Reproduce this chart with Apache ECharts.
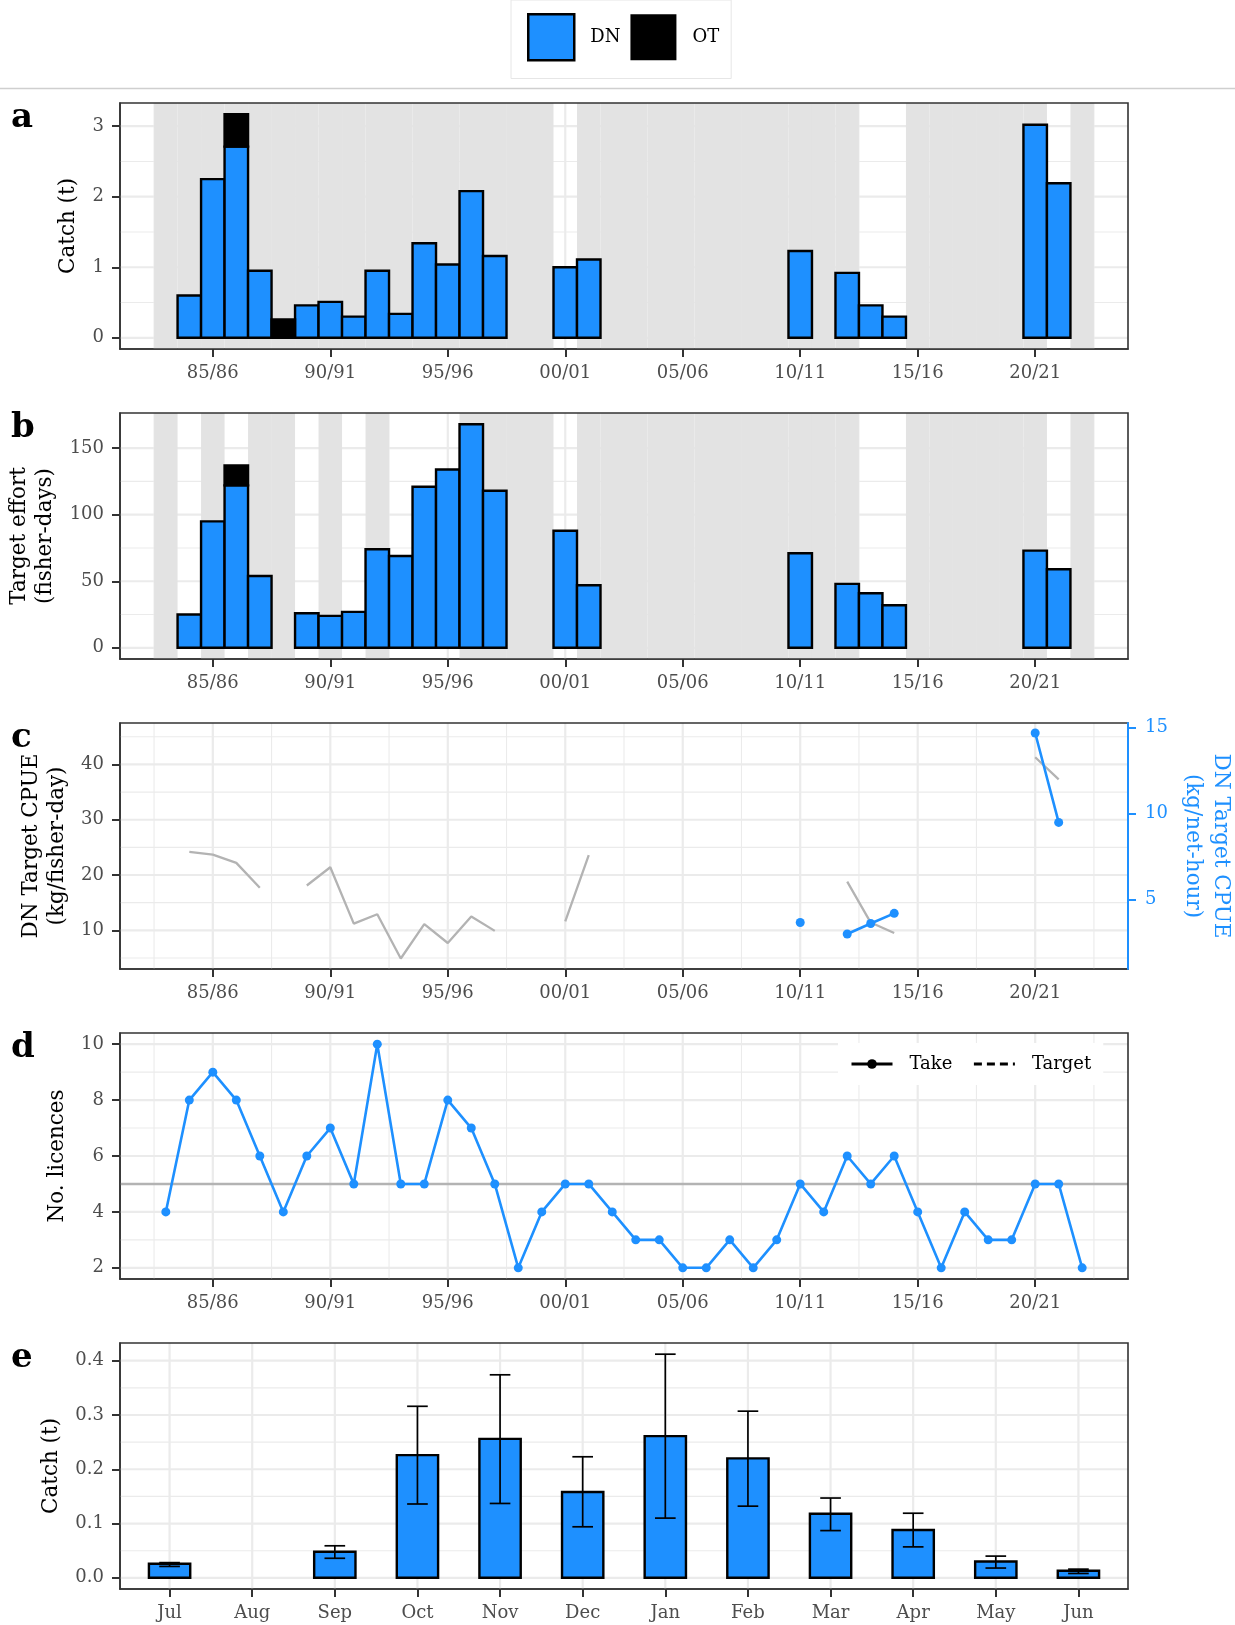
<!DOCTYPE html>
<html>
<head>
<meta charset="utf-8">
<script src="https://cdn.jsdelivr.net/npm/echarts@6/dist/echarts.min.js"></script>
<style>
html,body{margin:0;padding:0;background:#ffffff;}
#chart{width:1235px;height:1625px;}
</style>
</head>
<body>
<div id="chart"></div>
<script>
// ---------------- DATA ----------------
const years = [1983,1984,1985,1986,1987,1988,1989,1990,1991,1992,
               1993,1994,1995,1996,1997,1998,1999,2000,2001,2002,
               2003,2004,2005,2006,2007,2008,2009,2010,2011,2012,
               2013,2014,2015,2016,2017,2018,2019,2020,2021,2022];
// panel a: catch (t)
const catchDN = [null,0.60,2.25,2.71,0.95,null,0.46,0.51,0.30,0.95,
                 0.34,1.34,1.04,2.08,1.16,null,null,1.00,1.11,null,
                 null,null,null,null,null,null,null,1.23,null,0.92,
                 0.46,0.30,null,null,null,null,null,3.02,2.19,null];
const catchOT = [null,null,null,0.46,null,0.26,null,null,null,null,
                 null,null,null,null,null,null,null,null,null,null,
                 null,null,null,null,null,null,null,null,null,null,
                 null,null,null,null,null,null,null,null,null,null];
// panel b: target effort (fisher-days)
const effortDN = [null,25,95,122,54,null,26,24,27,74,
                  69,121,134,168,118,null,null,88,47,null,
                  null,null,null,null,null,null,null,71,null,48,
                  41,32,null,null,null,null,null,73,59,null];
const effortOT = [null,null,null,15,null,null,null,null,null,null,
                  null,null,null,null,null,null,null,null,null,null,
                  null,null,null,null,null,null,null,null,null,null,
                  null,null,null,null,null,null,null,null,null,null];
// panel c: CPUE
const cpueFisherDay = [null,24.2,23.7,22.2,17.7,null,18.1,21.4,11.2,12.9,
                       4.9,11.1,7.7,12.5,9.9,null,null,11.6,23.6,null,
                       null,null,null,null,null,null,null,null,null,18.8,
                       11.4,9.5,null,null,null,null,null,41.3,37.3,null];
const cpueNetHour = [null,null,null,null,null,null,null,null,null,null,
                     null,null,null,null,null,null,null,null,null,null,
                     null,null,null,null,null,null,null,3.67,null,3.00,
                     3.61,4.20,null,null,null,null,null,14.69,9.49,null];
// panel d: licences
const licences = [4,8,9,8,6,4,6,7,5,10,
                  5,5,8,7,5,2,4,5,5,4,
                  3,3,2,2,3,2,3,5,4,6,
                  5,6,4,2,4,3,3,5,5,2];
const licenceTarget = 5;
// shaded seasons
const shadeYearsA = [1983,1984,1985,1986,1987,1988,1989,1990,1991,1992,1993,1994,1995,1996,1997,1998,1999,
                     2001,2002,2003,2004,2005,2006,2007,2008,2009,2010,2011,2012,
                     2015,2016,2017,2018,2019,2020,2022];
const shadeYearsB = [1983,1985,1987,1988,1990,1992,1996,1997,1998,1999,
                     2001,2002,2003,2004,2005,2006,2007,2008,2009,2010,2011,2012,
                     2015,2016,2017,2018,2019,2020,2022];
// panel e: monthly catch
const months = ['Jul','Aug','Sep','Oct','Nov','Dec','Jan','Feb','Mar','Apr','May','Jun'];
const monthCatch = [0.026,null,0.048,0.226,0.256,0.158,0.261,0.220,0.118,0.088,0.030,0.013];
const monthLow   = [0.021,null,0.036,0.136,0.137,0.094,0.110,0.132,0.087,0.057,0.018,0.008];
const monthHigh  = [0.028,null,0.059,0.316,0.374,0.223,0.412,0.307,0.147,0.119,0.040,0.016];

// ticks
const xTickYears  = [1985,1990,1995,2000,2005,2010,2015,2020];
const xTickLabels = ['85/86','90/91','95/96','00/01','05/06','10/11','15/16','20/21'];
const xMinorYears = [1982.5,1987.5,1992.5,1997.5,2002.5,2007.5,2012.5,2017.5,2022.5];
const aTicks = [0,1,2,3], aTickLabels = ['0','1','2','3'], aMinor = [0.5,1.5,2.5];
const bTicks = [0,50,100,150], bTickLabels = ['0','50','100','150'], bMinor = [25,75,125];
const cTicks = [10,20,30,40], cTickLabels = ['10','20','30','40'], cMinor = [5,15,25,35,45];
const cRightTicks = [5,10,15], cRightLabels = ['5','10','15'];
const dTicks = [2,4,6,8,10], dTickLabels = ['2','4','6','8','10'], dMinor = [3,5,7,9];
const eTicks = [0,0.1,0.2,0.3,0.4], eTickLabels = ['0.0','0.1','0.2','0.3','0.4'], eMinor = [0.05,0.15,0.25,0.35];

// axis ranges
const xRange = [1981.05, 2023.95];
const aRange = [-0.1585, 3.3285];
const bRange = [-8.4, 176.4];
const cRange = [3.0, 47.5];
const cSecScale = 0.3215;
const dRange = [1.6, 10.4];
const eRange = [-0.0206, 0.4326];
const eXRange = [0.4, 12.6];

// ---------------- STYLE / LAYOUT ----------------
const BLUE = '#1E90FF';
const FONT = 'DejaVu Serif';
const GL = 120, GW = 1008, GH = 246;
const TOPS = [103, 413, 723, 1033, 1343];
const TICK_C = '#4D4D4D';
const GRID_C = '#EBEBEB';
const SHADE_C = '#E3E3E3';
const TITLE_SIZE = 21.5;

function lab(ticks, labels) {
  return function (v) {
    const i = ticks.findIndex(t => Math.abs(t - v) < 1e-6);
    return i < 0 ? '' : labels[i];
  };
}

function xAxisCfg(gi, range, ticks, labels) {
  return {
    type: 'value', gridIndex: gi, min: range[0], max: range[1],
    splitLine: {show: false}, minorSplitLine: {show: false},
    axisLine: {show: true, onZero: false, lineStyle: {color: '#333333', width: 1.6}},
    axisTick: {show: true, customValues: ticks, length: 8, lineStyle: {color: '#333333', width: 2}},
    axisLabel: {customValues: ticks, formatter: lab(ticks, labels), color: TICK_C, fontSize: 18, fontFamily: FONT, margin: 15}
  };
}
function yAxisCfg(gi, range, ticks, labels, name, gap) {
  return {
    type: 'value', gridIndex: gi, min: range[0], max: range[1], position: 'left',
    splitLine: {show: false},
    axisLine: {show: true, onZero: false, lineStyle: {color: '#333333', width: 1.6}},
    axisTick: {show: true, customValues: ticks, length: 8, lineStyle: {color: '#333333', width: 2}},
    axisLabel: {customValues: ticks, formatter: lab(ticks, labels), color: TICK_C, fontSize: 18, fontFamily: FONT, margin: 16},
    name: name, nameLocation: 'middle', nameRotate: 90, nameGap: gap,
    nameTextStyle: {color: '#000', fontSize: TITLE_SIZE, fontFamily: FONT, lineHeight: 26}
  };
}

const series = [];

function gridLines(xi, yi, vals, dir, width) {
  series.push({
    type: 'custom', xAxisIndex: xi, yAxisIndex: yi, z: 1, silent: true,
    data: vals.map(v => [v, v]),
    renderItem: function (params, api) {
      const cs = params.coordSys;
      if (dir === 'v') {
        const x = api.coord([api.value(0), api.value(1)])[0];
        return {type: 'line', shape: {x1: x, y1: cs.y, x2: x, y2: cs.y + cs.height},
                style: {stroke: GRID_C, lineWidth: width}};
      }
      const y = api.coord([api.value(0), api.value(1)])[1];
      return {type: 'line', shape: {x1: cs.x, y1: y, x2: cs.x + cs.width, y2: y},
              style: {stroke: GRID_C, lineWidth: width}};
    }
  });
}

function shading(xi, yi, shadeYears) {
  series.push({
    type: 'custom', xAxisIndex: xi, yAxisIndex: yi, z: 2, silent: true,
    data: shadeYears.map(y => [y, 0]),
    renderItem: function (params, api) {
      const cs = params.coordSys;
      const xa = api.coord([api.value(0) - 0.5, 0])[0];
      const xb = api.coord([api.value(0) + 0.5, 0])[0];
      return {type: 'rect', shape: {x: xa, y: cs.y, width: xb - xa, height: cs.height},
              style: {fill: SHADE_C}};
    }
  });
}

function barRender(halfWidth, fill) {
  return function (params, api) {
    const x = api.value(0);
    const p0 = api.coord([x - halfWidth, api.value(1)]);
    const p1 = api.coord([x + halfWidth, api.value(2)]);
    return {type: 'rect',
            shape: {x: p0[0], y: p1[1], width: p1[0] - p0[0], height: p0[1] - p1[1]},
            style: {fill: fill, stroke: '#000', lineWidth: 2.4}};
  };
}

function stackedBars(xi, yi, dn, ot) {
  const dnData = [], otData = [];
  years.forEach((y, i) => {
    if (dn[i] != null) dnData.push([y, 0, dn[i]]);
    if (ot[i] != null) {
      const base = dn[i] != null ? dn[i] : 0;
      otData.push([y, base, base + ot[i]]);
    }
  });
  series.push({type: 'custom', name: 'DN', xAxisIndex: xi, yAxisIndex: yi, z: 3,
               itemStyle: {color: BLUE, borderColor: '#000', borderWidth: 2.4},
               data: dnData, renderItem: barRender(0.5, BLUE)});
  series.push({type: 'custom', name: 'OT', xAxisIndex: xi, yAxisIndex: yi, z: 3,
               itemStyle: {color: '#000'},
               data: otData, renderItem: barRender(0.5, '#000')});
}

// ---- axes ----
const xAxes = [
  xAxisCfg(0, xRange, xTickYears, xTickLabels),
  xAxisCfg(1, xRange, xTickYears, xTickLabels),
  xAxisCfg(2, xRange, xTickYears, xTickLabels),
  xAxisCfg(3, xRange, xTickYears, xTickLabels),
  xAxisCfg(4, eXRange, months.map((m, i) => i + 1), months)
];
const cRightAxis = {
  type: 'value', gridIndex: 2, position: 'right', z: 120,
  min: cRange[0] * cSecScale, max: cRange[1] * cSecScale,
  splitLine: {show: false},
  axisLine: {show: true, onZero: false, lineStyle: {color: BLUE, width: 2}},
  axisTick: {show: true, customValues: cRightTicks, length: 8, lineStyle: {color: BLUE, width: 2}},
  axisLabel: {customValues: cRightTicks, formatter: lab(cRightTicks, cRightLabels), color: BLUE, fontSize: 18, fontFamily: FONT, margin: 17},
  name: 'DN Target CPUE\n(kg/net-hour)', nameLocation: 'middle', nameRotate: -90, nameGap: 38,
  nameTextStyle: {color: BLUE, fontSize: TITLE_SIZE, fontFamily: FONT, lineHeight: 28}
};
const yAxes = [
  yAxisCfg(0, aRange, aTicks, aTickLabels, 'Catch (t)', 32),
  yAxisCfg(1, bRange, bTicks, bTickLabels, 'Target effort\n(fisher-days)', 47),
  yAxisCfg(2, cRange, cTicks, cTickLabels, 'DN Target CPUE\n(kg/fisher-day)', 41),
  cRightAxis,
  yAxisCfg(3, dRange, dTicks, dTickLabels, 'No. licences', 42),
  yAxisCfg(4, eRange, eTicks, eTickLabels, 'Catch (t)', 53)
];

// ---- gridlines & shading ----
const yIdx = [0, 1, 2, 4, 5];
const yMaj = [aTicks, bTicks, cTicks, dTicks, eTicks];
const yMin = [aMinor, bMinor, cMinor, dMinor, eMinor];
for (let p = 0; p < 5; p++) {
  if (p < 4) {
    gridLines(p, yIdx[p], xMinorYears, 'v', 1.1);
    gridLines(p, yIdx[p], xTickYears, 'v', 2.2);
  } else {
    gridLines(p, yIdx[p], months.map((m, i) => i + 1), 'v', 2.2);
  }
  gridLines(p, yIdx[p], yMin[p], 'h', 1.1);
  gridLines(p, yIdx[p], yMaj[p], 'h', 2.2);
}
shading(0, 0, shadeYearsA);
shading(1, 1, shadeYearsB);

// ---- panel a, b bars ----
stackedBars(0, 0, catchDN, catchOT);
stackedBars(1, 1, effortDN, effortOT);

// ---- panel c ----
series.push({
  type: 'line', name: 'cpueDay', xAxisIndex: 2, yAxisIndex: 2, z: 4, silent: true,
  data: years.map((y, i) => [y, cpueFisherDay[i]]),
  showSymbol: false, connectNulls: false,
  lineStyle: {color: '#B3B3B3', width: 2.3}, itemStyle: {color: '#B3B3B3'}
});
series.push({
  type: 'line', name: 'cpueNet', xAxisIndex: 2, yAxisIndex: 3, z: 5, silent: true,
  data: years.map((y, i) => [y, cpueNetHour[i]]),
  showSymbol: true, showAllSymbol: true, symbol: 'circle', symbolSize: 9, connectNulls: false,
  lineStyle: {color: BLUE, width: 2.6}, itemStyle: {color: BLUE}
});

// ---- panel d ----
series.push({
  type: 'custom', name: 'targetLine', xAxisIndex: 3, yAxisIndex: 4, z: 3, silent: true,
  data: [[xRange[0], licenceTarget]],
  renderItem: function (params, api) {
    const cs = params.coordSys;
    const y = api.coord([api.value(0), api.value(1)])[1];
    return {type: 'line', shape: {x1: cs.x, y1: y, x2: cs.x + cs.width, y2: y},
            style: {stroke: '#B3B3B3', lineWidth: 2.4}};
  }
});
series.push({
  type: 'line', name: 'Target', xAxisIndex: 3, yAxisIndex: 4, data: [], symbol: 'none',
  lineStyle: {color: '#000', type: [8, 5], width: 3}, itemStyle: {color: '#000'}
});
series.push({
  type: 'line', name: 'Take', xAxisIndex: 3, yAxisIndex: 4, z: 5, silent: true,
  data: years.map((y, i) => [y, licences[i]]),
  showSymbol: true, showAllSymbol: true, symbol: 'circle', symbolSize: 9,
  lineStyle: {color: BLUE, width: 2.6}, itemStyle: {color: BLUE}
});

// ---- panel e ----
const eBars = [], eErr = [];
months.forEach((m, i) => {
  if (monthCatch[i] != null) eBars.push([i + 1, 0, monthCatch[i]]);
  if (monthLow[i] != null) eErr.push([i + 1, monthLow[i], monthHigh[i]]);
});
series.push({type: 'custom', name: 'monthBars', xAxisIndex: 4, yAxisIndex: 5, z: 3, silent: true,
             data: eBars, renderItem: barRender(0.25, BLUE)});
series.push({
  type: 'custom', name: 'monthErr', xAxisIndex: 4, yAxisIndex: 5, z: 4, silent: true,
  data: eErr,
  renderItem: function (params, api) {
    const x = api.value(0);
    const lo = api.coord([x, api.value(1)]);
    const hi = api.coord([x, api.value(2)]);
    const wl = api.coord([x - 0.125, api.value(1)])[0];
    const wr = api.coord([x + 0.125, api.value(1)])[0];
    const st = {stroke: '#000', lineWidth: 1.7};
    return {type: 'group', children: [
      {type: 'line', shape: {x1: lo[0], y1: lo[1], x2: hi[0], y2: hi[1]}, style: st},
      {type: 'line', shape: {x1: wl, y1: lo[1], x2: wr, y2: lo[1]}, style: st},
      {type: 'line', shape: {x1: wl, y1: hi[1], x2: wr, y2: hi[1]}, style: st}
    ]};
  }
});

// ---- graphics: frames, panel letters, separator ----
const graphics = [];
graphics.push({type: 'line', z: 100, silent: true,
  shape: {x1: 0, y1: 88.5, x2: 1235, y2: 88.5}, style: {stroke: '#CFCFCF', lineWidth: 1.5}});
const letters = ['a', 'b', 'c', 'd', 'e'];
TOPS.forEach((t, i) => {
  graphics.push({type: 'rect', z: 100, silent: true,
    shape: {x: GL, y: t, width: GW, height: GH},
    style: {fill: 'none', stroke: '#333333', lineWidth: 1.6}});
  graphics.push({type: 'text', z: 100, silent: true, left: 11, top: t - 2,
    style: {text: letters[i], font: 'bold 34px "DejaVu Serif"', fill: '#000'}});
});

const option = {
  animation: false,
  backgroundColor: '#ffffff',
  textStyle: {fontFamily: FONT},
  grid: TOPS.map(t => ({left: GL, top: t, width: GW, height: GH, containLabel: false, outerBoundsMode: 'none'})),
  xAxis: xAxes,
  yAxis: yAxes,
  legend: [
    {
      left: 511, top: 0, orient: 'horizontal', selectedMode: false,
      padding: [13, 12, 17, 16], itemWidth: 46, itemHeight: 46, itemGap: 10,
      backgroundColor: '#ffffff', borderColor: '#E6E6E6', borderWidth: 1,
      textStyle: {fontFamily: FONT, fontSize: 18, color: '#000', padding: [0, 0, 0, 11]},
      data: [
        {name: 'DN', icon: 'rect', itemStyle: {color: BLUE, borderColor: '#000', borderWidth: 2.5}},
        {name: 'OT', icon: 'rect', itemStyle: {color: '#000', borderColor: '#000', borderWidth: 0}}
      ]
    },
    {
      left: 838, top: 1043, orient: 'horizontal', selectedMode: false,
      padding: [12, 12, 12, 12], itemWidth: 41, itemHeight: 12, itemGap: 20,
      backgroundColor: '#ffffff',
      textStyle: {fontFamily: FONT, fontSize: 18, color: '#000', padding: [0, 0, 0, 12]},
      data: [
        {name: 'Take', itemStyle: {color: '#000', borderWidth: 0}, lineStyle: {color: '#000', width: 3}},
        {name: 'Target', itemStyle: {color: 'rgba(0,0,0,0)', borderWidth: 0}, lineStyle: {color: '#000', width: 3, type: [8, 5]}}
      ]
    }
  ],
  graphic: graphics,
  series: series
};

const chart = echarts.init(document.getElementById('chart'), null, {renderer: 'canvas', width: 1235, height: 1625});
chart.setOption(option);
</script>
</body>
</html>
